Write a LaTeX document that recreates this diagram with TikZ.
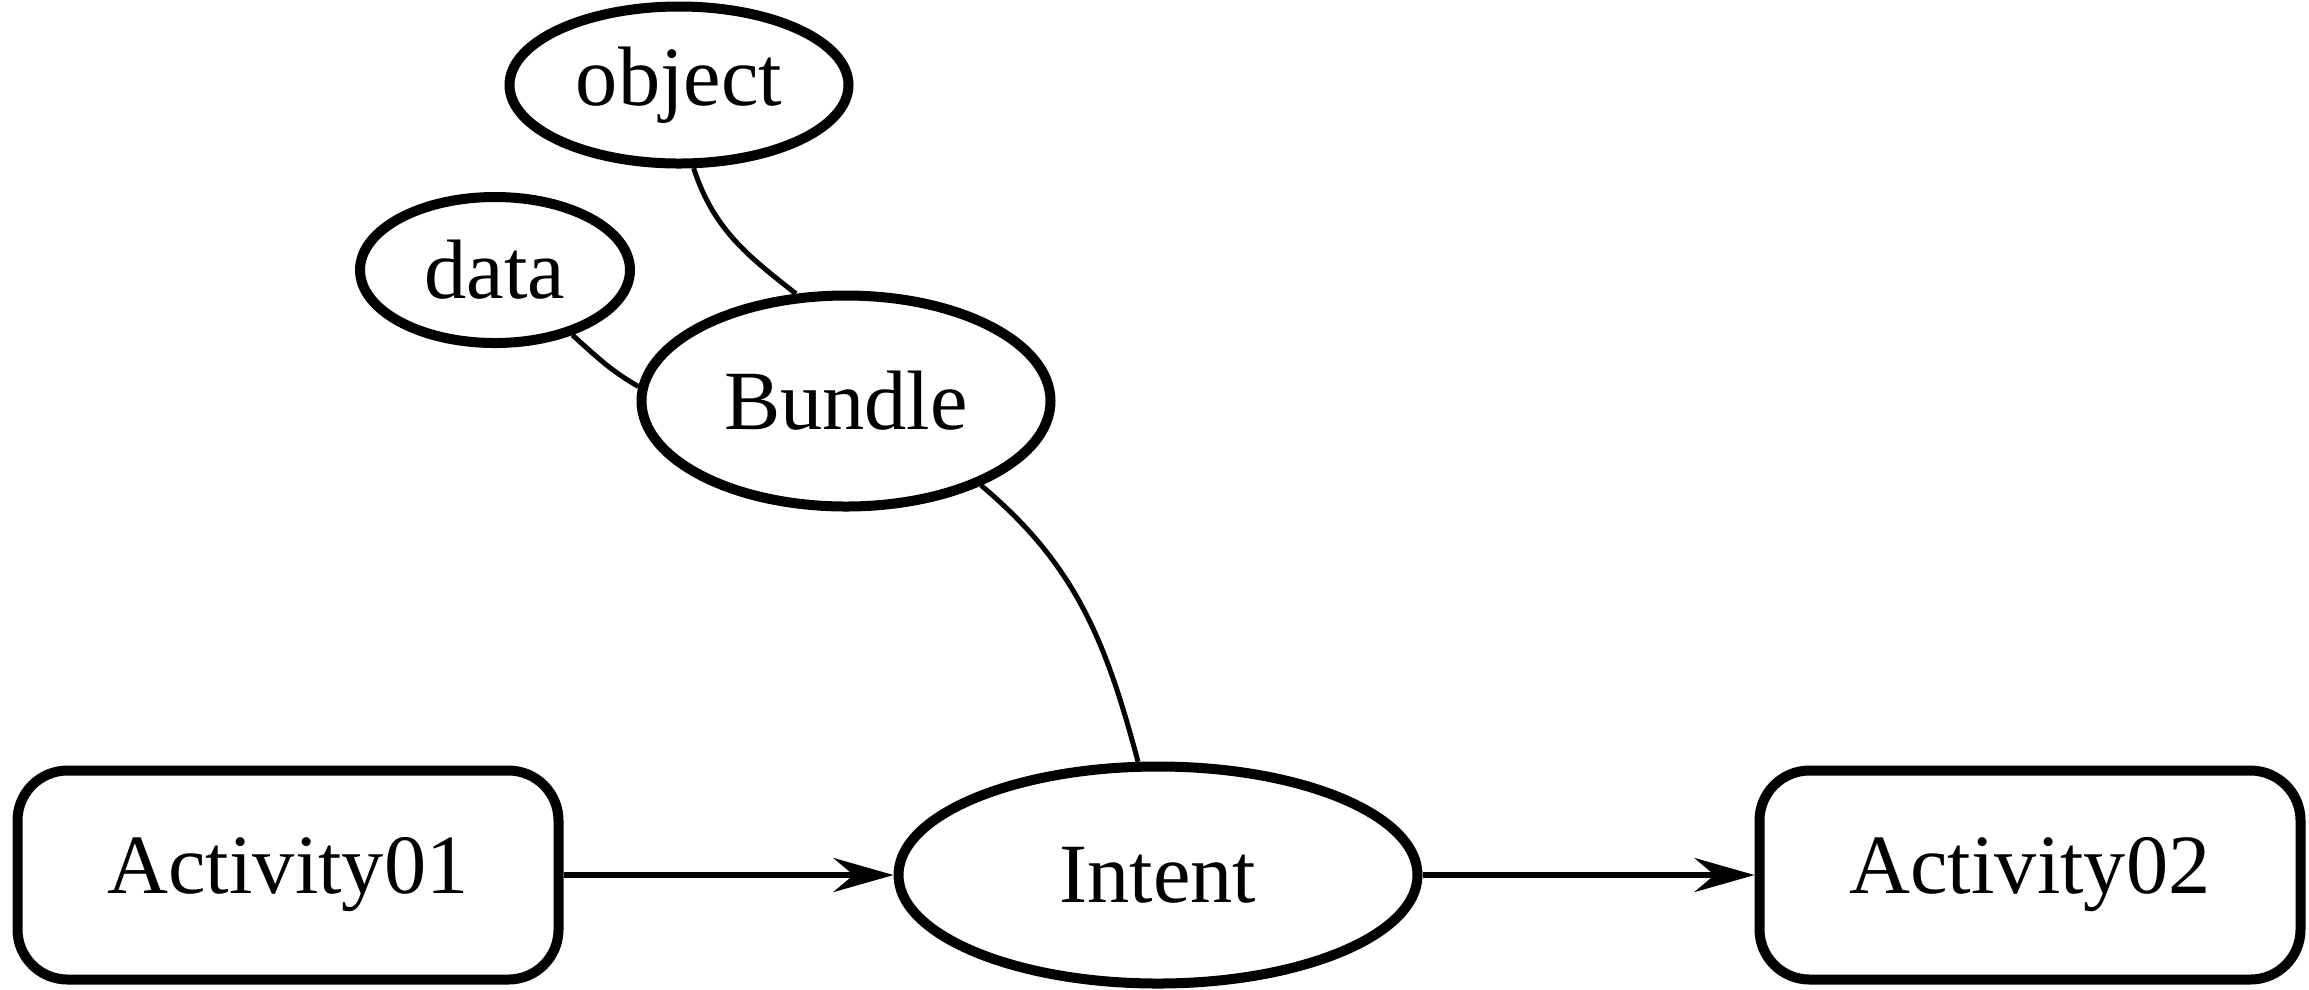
\documentclass[tikz,border=0pt]{standalone}
\usepackage{fontspec}
\setmainfont{Liberation Serif}
\usepackage{tikz}
\usetikzlibrary{arrows.meta,shapes.geometric}

\begin{document}
\begin{tikzpicture}[
    >={Stealth[length=6mm, width=3.4mm, inset=2mm]},
    every node/.style={font=\fontsize{24}{28}\selectfont},
    oval/.style={draw, ellipse, line width=0.1cm, inner sep=0pt},
    act/.style={draw, rectangle, rounded corners=0.5cm, line width=0.1cm,
                minimum width=5.41cm, minimum height=2.09cm},
    link/.style={line width=0.05cm},
    flow/.style={->, line width=0.065cm},
  ]
  \useasboundingbox (0,0) rectangle (23.09,-9.89);
  %% ---- Ovals ----
  \node[oval, minimum width=3.39cm, minimum height=1.57cm] (obj)    at (6.79,-0.85)  {object};
  \node[oval, minimum width=2.70cm, minimum height=1.46cm] (data)   at (4.95,-2.70)  {data};
  \node[oval, minimum width=4.09cm, minimum height=2.11cm] (bundle) at (8.46,-4.01)  {Bundle};
  \node[oval, minimum width=5.19cm, minimum height=2.17cm] (intent) at (11.58,-8.75) {Intent};
  %% ---- Activities ----
  \node[act] (act1) at (2.88,-8.75)  {Activity01};
  \node[act] (act2) at (20.30,-8.75) {Activity02};
  %% ---- Links ----
  \draw[link] (obj.-80) to[out=-72, in=142] (bundle.115);
  \draw[link] (data.-40) to[out=-42, in=150] (bundle.176);
  \draw[link] (bundle.-32) to[out=-40, in=105] (intent.100);
  %% ---- Arrows ----
  \draw[flow] (act1.east) -- (intent.west);
  \draw[flow] (intent.east) -- (act2.west);
\end{tikzpicture}
\end{document}
